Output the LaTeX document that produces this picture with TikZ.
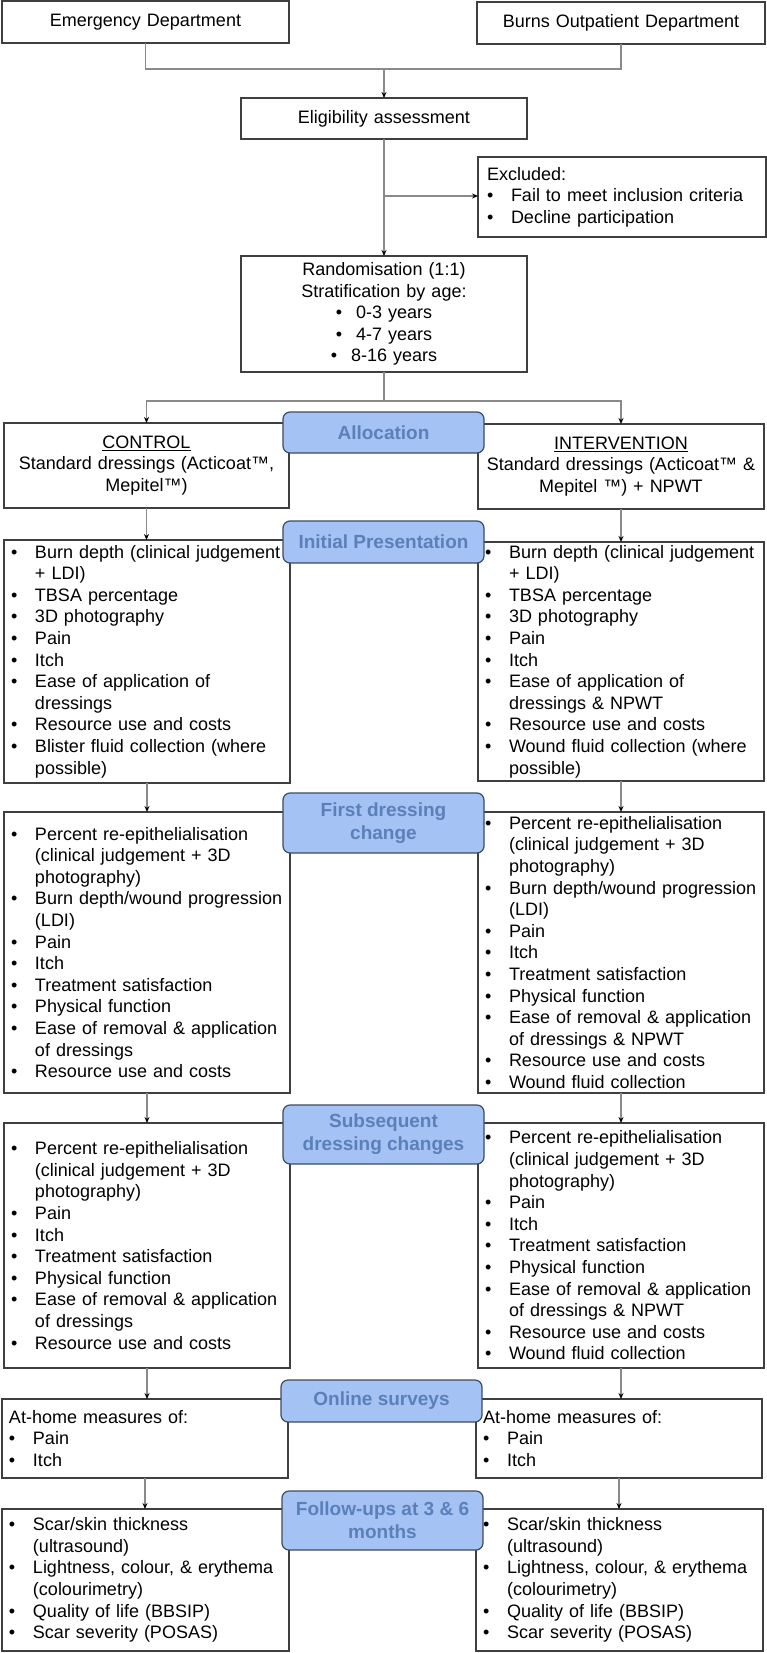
\documentclass[tikz,border=0pt]{standalone}
\usepackage{fontspec}
\setmainfont{Liberation Sans}
\usetikzlibrary{arrows.meta}
\definecolor{boxline}{HTML}{3F3F3F}
\definecolor{conline}{HTML}{8A8A8A}
\definecolor{bluefill}{HTML}{A4C2F4}
\definecolor{blueedge}{HTML}{3E4B5E}
\definecolor{bluetext}{HTML}{5B80B9}
\newcommand{\bu}[1]{\makebox[24pt][l]{\textbullet}\mbox{#1}}
\newcommand{\cn}[1]{\hspace*{24pt}\mbox{#1}}
\begin{document}
\begin{tikzpicture}[x=1pt,y=-1pt,
 box/.style={draw=boxline,line width=1.3pt,fill=white,anchor=north west,inner xsep=7pt,inner ysep=0pt,outer sep=0pt,font=\fontsize{18}{21.6}\selectfont,align=left},
 cbox/.style={box,align=center},
 lab/.style={draw=blueedge,line width=1.2pt,fill=bluefill,rounded corners=7pt,anchor=north west,inner sep=0pt,outer sep=0pt,minimum width=201pt,font=\bfseries\fontsize{19}{23}\selectfont,text=bluetext,align=center},
 conn/.style={draw=conline,line width=1.2pt},
 arr/.style={-{Stealth[length=6pt,width=5pt,black]}}]
\useasboundingbox[fill=white] (0,0) rectangle (767,1653);

% top
\node[cbox,text width=273pt,minimum height=42pt] (ed) at (2,1) {Emergency Department};
\node[cbox,text width=274pt,minimum height=42pt] (burns) at (477,2) {Burns Outpatient Department};
\node[cbox,text width=272pt,minimum height=41pt] (elig) at (241,98) {Eligibility assessment};
\node[box,inner xsep=9pt,text width=270pt,minimum height=80pt] (excl) at (478,157)
 {Excluded:\\ \bu{Fail to meet inclusion criteria}\\ \bu{Decline participation}};
\node[cbox,text width=272pt,minimum height=116pt] (rand) at (241,256)
 {Randomisation (1:1)\\ Stratification by age:\\ \textbullet\hspace{14pt}0-3 years\\ \textbullet\hspace{14pt}4-7 years\\ \textbullet\hspace{14pt}8-16 years};

% allocation
\node[cbox,text width=271pt,minimum height=85pt] (ctrl) at (4,423)
 {\underline{CONTROL}\\ Standard dressings (Acticoat™,\\ Mepitel™)};
\node[cbox,text width=272pt,minimum height=85pt] (intv) at (478,424)
 {\underline{INTERVENTION}\\ Standard dressings (Acticoat™ \&\\ Mepitel ™) + NPWT};

% initial presentation
\node[box,text width=272pt,minimum height=243pt] (ip1) at (4,540)
 {\bu{Burn depth (clinical judgement}\\ \cn{+ LDI)}\\ \bu{TBSA percentage}\\ \bu{3D photography}\\ \bu{Pain}\\ \bu{Itch}\\ \bu{Ease of application of}\\ \cn{dressings}\\ \bu{Resource use and costs}\\ \bu{Blister fluid collection (where}\\ \cn{possible)}};
\node[box,text width=272pt,minimum height=239pt] (ip2) at (478,542)
 {\bu{Burn depth (clinical judgement}\\ \cn{+ LDI)}\\ \bu{TBSA percentage}\\ \bu{3D photography}\\ \bu{Pain}\\ \bu{Itch}\\ \bu{Ease of application of}\\ \cn{dressings \& NPWT}\\ \bu{Resource use and costs}\\ \bu{Wound fluid collection (where}\\ \cn{possible)}};

% first dressing change
\node[box,text width=272pt,minimum height=281pt] (fd1) at (4,812)
 {\bu{Percent re-epithelialisation}\\ \cn{(clinical judgement + 3D}\\ \cn{photography)}\\ \bu{Burn depth/wound progression}\\ \cn{(LDI)}\\ \bu{Pain}\\ \bu{Itch}\\ \bu{Treatment satisfaction}\\ \bu{Physical function}\\ \bu{Ease of removal \& application}\\ \cn{of dressings}\\ \bu{Resource use and costs}};
\node[box,text width=272pt,minimum height=281pt] (fd2) at (478,812)
 {\bu{Percent re-epithelialisation}\\ \cn{(clinical judgement + 3D}\\ \cn{photography)}\\ \bu{Burn depth/wound progression}\\ \cn{(LDI)}\\ \bu{Pain}\\ \bu{Itch}\\ \bu{Treatment satisfaction}\\ \bu{Physical function}\\ \bu{Ease of removal \& application}\\ \cn{of dressings \& NPWT}\\ \bu{Resource use and costs}\\ \bu{Wound fluid collection}};

% subsequent dressing changes
\node[box,text width=272pt,minimum height=245pt] (sd1) at (4,1123)
 {\bu{Percent re-epithelialisation}\\ \cn{(clinical judgement + 3D}\\ \cn{photography)}\\ \bu{Pain}\\ \bu{Itch}\\ \bu{Treatment satisfaction}\\ \bu{Physical function}\\ \bu{Ease of removal \& application}\\ \cn{of dressings}\\ \bu{Resource use and costs}};
\node[box,text width=272pt,minimum height=245pt] (sd2) at (478,1123)
 {\bu{Percent re-epithelialisation}\\ \cn{(clinical judgement + 3D}\\ \cn{photography)}\\ \bu{Pain}\\ \bu{Itch}\\ \bu{Treatment satisfaction}\\ \bu{Physical function}\\ \bu{Ease of removal \& application}\\ \cn{of dressings \& NPWT}\\ \bu{Resource use and costs}\\ \bu{Wound fluid collection}};

% online surveys
\node[box,text width=272pt,minimum height=79pt] (on1) at (2,1399)
 {At-home measures of:\\ \bu{Pain}\\ \bu{Itch}};
\node[box,text width=272pt,minimum height=79pt] (on2) at (476,1399)
 {At-home measures of:\\ \bu{Pain}\\ \bu{Itch}};

% follow-ups
\node[box,text width=273pt,minimum height=142pt] (fu1) at (2,1509)
 {\bu{Scar/skin thickness}\\ \cn{(ultrasound)}\\ \bu{Lightness, colour, \& erythema}\\ \cn{(colourimetry)}\\ \bu{Quality of life (BBSIP)}\\ \bu{Scar severity (POSAS)}};
\node[box,text width=273pt,minimum height=142pt] (fu2) at (476,1509)
 {\bu{Scar/skin thickness}\\ \cn{(ultrasound)}\\ \bu{Lightness, colour, \& erythema}\\ \cn{(colourimetry)}\\ \bu{Quality of life (BBSIP)}\\ \bu{Scar severity (POSAS)}};

% connectors
\coordinate (j1) at (384,69);
\coordinate (j2) at (384,196);
\coordinate (j3) at (384,401);
\draw[conn] (ed.south) |- (j1) -| (burns.south);
\draw[conn,arr] (j1) -- (elig.north);
\draw[conn,arr] (elig.south) -- (rand.north);
\draw[conn,arr] (j2) -- (j2 -| excl.west);
\draw[conn] (rand.south) -- (j3);
\draw[conn,arr] (j3) -| (ctrl.north);
\draw[conn,arr] (j3) -| (intv.north);
\draw[conn,arr] (ctrl.south) -- (ctrl.south |- ip1.north);
\draw[conn,arr] (intv.south) -- (intv.south |- ip2.north);
\draw[conn,arr] (ip1.south) -- (ip1.south |- fd1.north);
\draw[conn,arr] (ip2.south) -- (ip2.south |- fd2.north);
\draw[conn,arr] (fd1.south) -- (fd1.south |- sd1.north);
\draw[conn,arr] (fd2.south) -- (fd2.south |- sd2.north);
\draw[conn,arr] (sd1.south) -- (sd1.south |- on1.north);
\draw[conn,arr] (sd2.south) -- (sd2.south |- on2.north);
\draw[conn,arr] (on1.south) -- (on1.south |- fu1.north);
\draw[conn,arr] (on2.south) -- (on2.south |- fu2.north);

% stage labels
\node[lab,minimum height=41pt] (al) at (283,412) {Allocation};
\node[lab,minimum height=42pt] (ipl) at (283,521) {Initial Presentation};
\node[lab,minimum height=60pt] (fdl) at (283,793) {First dressing\\change};
\node[lab,minimum height=59pt] (sdl) at (283,1105) {Subsequent\\dressing changes};
\node[lab,minimum height=42pt] (onl) at (281,1380) {Online surveys};
\node[lab,minimum height=59pt] (ful) at (282,1491) {Follow-ups at 3 \& 6\\months};
\end{tikzpicture}
\end{document}
